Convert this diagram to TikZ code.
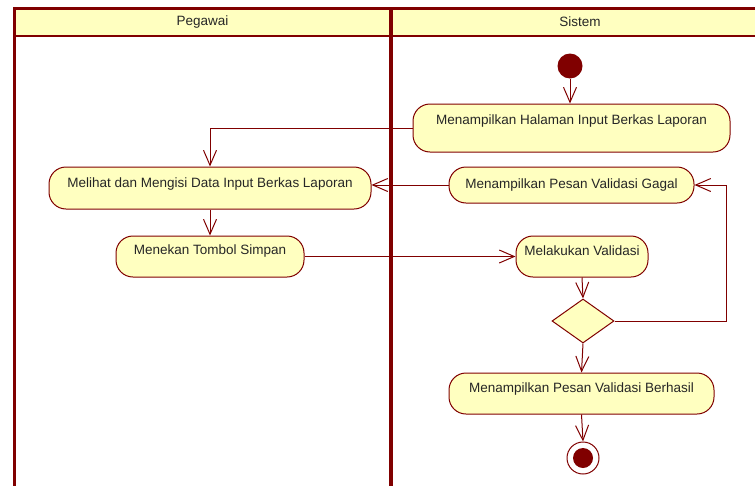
\documentclass[tikz,border=0pt]{standalone}
\usepackage{fontspec}
\setmainfont{Liberation Sans}
\usetikzlibrary{arrows.meta,shapes.geometric}
\definecolor{umlred}{RGB}{128,0,0}
\definecolor{umlyellow}{RGB}{255,255,192}
\tikzset{
  activity/.style={draw=umlred, fill=umlyellow, line width=1pt, rounded corners=17pt,
    inner xsep=0pt, inner ysep=0pt, text height=20pt, text depth=21.5pt, anchor=base,
    text=black!85, font=\fontsize{13.5pt}{16pt}\selectfont},
  lanetitle/.style={text=black!85, font=\fontsize{13.5pt}{16pt}\selectfont},
  decision/.style={diamond, draw=umlred, fill=umlyellow, line width=1pt, inner sep=0pt,
    minimum width=62pt, minimum height=44pt},
  flow/.style={->, draw=umlred, line width=1pt}
}

\begin{document}
\begin{tikzpicture}[x=1pt, y=-1pt, >={Straight Barb[length=15pt,width=13pt]}]
		\clip (0,0) rectangle (755,485);
		%\draw[help lines] (0,0) grid (755,485);
		\fill[white] (0,0) rectangle (755,485);
		\fill[umlyellow] (14,8) rectangle (768,36);%header
		\draw[umlred, line width=2pt] (14,36) -- (768,36);
		\draw[umlred, line width=3pt] (14,500) -- (14,8) -- (768,8) -- (768,500);%frame
		\draw[umlred, line width=3.5pt] (391,8) -- (391,500);%divider
		\node[lanetitle] (pegawai) at (202.5,22) {Pegawai};
		\node[lanetitle] (sistem) at (580,22) {Sistem};
		
		\node[circle, fill=umlred, minimum size=25pt, inner sep=0pt] (start) at (570,66) {};
		\node[activity, minimum width=317pt, text height=20.7pt, text depth=27.3pt] (halaman) at (571.5,124.7) {Menampilkan Halaman Input Berkas Laporan};
		\node[activity, minimum width=322pt, text height=20.7pt, text depth=21.3pt] (melihat) at (210,187.7) {Melihat dan Mengisi Data Input Berkas Laporan};
		\node[activity, minimum width=188pt, text height=18.7pt, text depth=22.3pt] (menekan) at (210,254.7) {Menekan Tombol Simpan};
		\node[activity, minimum width=245pt, text height=21.7pt, text depth=14.3pt] (gagal) at (571.5,188.7) {Menampilkan Pesan Validasi Gagal};
		\node[activity, minimum width=132pt, text height=19.7pt, text depth=21.3pt] (validasi) at (582,255.7) {Melakukan Validasi};
		\node[decision] (cek) at (583,321) {};
		\node[activity, minimum width=265pt, text height=19.7pt, text depth=21.3pt] (berhasil) at (581.5,392.7) {Menampilkan Pesan Validasi Berhasil};
		\node[circle, draw=umlred, fill=white, line width=1pt, minimum size=32pt, inner sep=0pt] (stop) at (583,458) {};
		\fill[umlred] (stop) circle (10);
		
		\draw[flow] (start) -- (start |- halaman.north);
		\draw[flow] (halaman.west) -| (melihat.north);
		\draw[flow] (melihat) -- (menekan);
		\draw[flow] (gagal.west) -- (gagal.west -| melihat.east);
		\draw[flow] (menekan.east) -- (validasi.west);
		\draw[flow] (validasi.south) -- (cek.north);
		\draw[flow] (cek.east) -- ++(112,0) |- (gagal.east);%loop back
		\draw[flow] (cek.south) -- (berhasil.north);
		\draw[flow] (berhasil.south) -- (stop.north);
		\end{tikzpicture}
\end{document}
